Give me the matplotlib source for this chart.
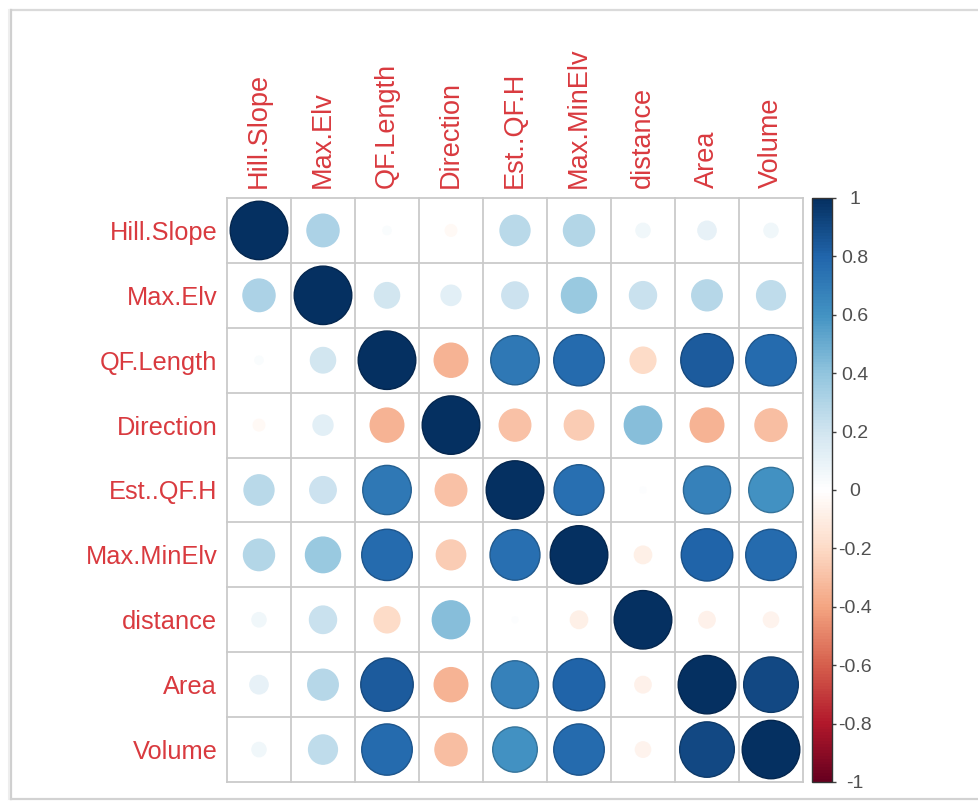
import numpy as np
import matplotlib
matplotlib.use("Agg")
import matplotlib.pyplot as plt
from matplotlib.colors import LinearSegmentedColormap, Normalize
from matplotlib.patches import Circle
from matplotlib.lines import Line2D
import matplotlib.cm as cm

plt.rcParams['font.family'] = ['Liberation Sans', 'DejaVu Sans']

variables = ["Hill.Slope", "Max.Elv", "QF.Length", "Direction", "Est..QF.H",
             "Max.MinElv", "distance", "Area", "Volume"]

hill_slope = [1.00, 0.31, 0.02, -0.04, 0.27, 0.29, 0.06, 0.10, 0.06]
max_elv    = [0.31, 1.00, 0.19, 0.12, 0.21, 0.37, 0.22, 0.28, 0.25]
qf_length  = [0.02, 0.19, 1.00, -0.34, 0.71, 0.77, -0.20, 0.83, 0.77]
direction  = [-0.04, 0.12, -0.34, 1.00, -0.30, -0.26, 0.42, -0.34, -0.31]
est_qf_h   = [0.27, 0.21, 0.71, -0.30, 1.00, 0.75, 0.01, 0.67, 0.60]
max_minelv = [0.29, 0.37, 0.77, -0.26, 0.75, 1.00, -0.09, 0.80, 0.77]
distance   = [0.06, 0.22, -0.20, 0.42, 0.01, -0.09, 1.00, -0.08, -0.07]
area       = [0.10, 0.28, 0.83, -0.34, 0.67, 0.80, -0.08, 1.00, 0.90]
volume     = [0.06, 0.25, 0.77, -0.31, 0.60, 0.77, -0.07, 0.90, 1.00]

corr = np.array([hill_slope, max_elv, qf_length, direction, est_qf_h,
                 max_minelv, distance, area, volume])

cbar_ticks = [1, 0.8, 0.6, 0.4, 0.2, 0, -0.2, -0.4, -0.6, -0.8, -1]

# diverging red-white-blue palette
palette = ["#67001F", "#B2182B", "#D6604D", "#F4A582", "#FDDBC7", "#FFFFFF",
           "#D1E5F0", "#92C5DE", "#4393C3", "#2166AC", "#053061"]
cmap = LinearSegmentedColormap.from_list("rdbu_white", palette, N=200)
norm = Normalize(vmin=-1, vmax=1)

W, H = 979, 802
fig = plt.figure(figsize=(W / 100, H / 100), dpi=100)
fig.patch.set_facecolor("white")

def px_rect(x0, y0, x1, y1):
    return [x0 / W, 1 - y1 / H, (x1 - x0) / W, (y1 - y0) / H]

ax = fig.add_axes(px_rect(227, 198, 803, 782))
n = len(variables)
ax.set_xlim(0, n)
ax.set_ylim(n, 0)
for s in ax.spines.values():
    s.set_visible(False)

# cell grid
grid_col = "#CACACA"
for k in range(n + 1):
    ax.plot([k, k], [0, n], color=grid_col, lw=1.3, zorder=1, clip_on=False)
    ax.plot([0, n], [k, k], color=grid_col, lw=1.3, zorder=1, clip_on=False)

# circles: area proportional to |r|
for i in range(n):
    for j in range(n):
        r = corr[i, j]
        col = np.array(cmap(norm(r)))
        edge = col.copy()
        edge[:3] *= 0.8 if abs(r) > 0.5 else 1.0
        rad = 0.45 * np.sqrt(abs(r))
        ax.add_patch(Circle((j + 0.5, i + 0.5), rad, facecolor=col,
                            edgecolor=edge, lw=1.0, zorder=2))

label_col = "#D93A3F"
ax.set_xticks(np.arange(n) + 0.5)
ax.set_xticklabels(variables, rotation=90, color=label_col, fontsize=19.5)
ax.xaxis.tick_top()
ax.set_yticks(np.arange(n) + 0.5)
ax.set_yticklabels(variables, color=label_col, fontsize=18.3)
ax.tick_params(axis="x", length=0, pad=7)
ax.tick_params(axis="y", length=0, pad=7)

# colour legend
cax = fig.add_axes(px_rect(812, 198, 832, 782))
sm = cm.ScalarMappable(norm=norm, cmap=cmap)
cb = fig.colorbar(sm, cax=cax, ticks=cbar_ticks)
cb.ax.set_yticklabels([f"{t:g}" for t in cbar_ticks])
cb.ax.tick_params(labelsize=14, labelcolor="#505050", color="#404040",
                  length=3, width=1, pad=13.5)
for t in cb.ax.get_yticklabels():
    t.set_horizontalalignment("center")
cb.outline.set_edgecolor("#333333")
cb.outline.set_linewidth(1.0)

# page frame
for xs, ys, c, lw in [([11, W], [10, 10], "#DADADA", 1.6),
                      ([11, 11], [10, 799], "#CFCFCF", 1.6),
                      ([9, 9], [10, 799], "#EEEEEE", 1.5),
                      ([11, W], [799, 799], "#D2D2D2", 1.6)]:
    fig.add_artist(Line2D([x / W for x in xs], [1 - y / H for y in ys],
                          transform=fig.transFigure, color=c, lw=lw))

fig.savefig("out.png", dpi=100, facecolor="white")
